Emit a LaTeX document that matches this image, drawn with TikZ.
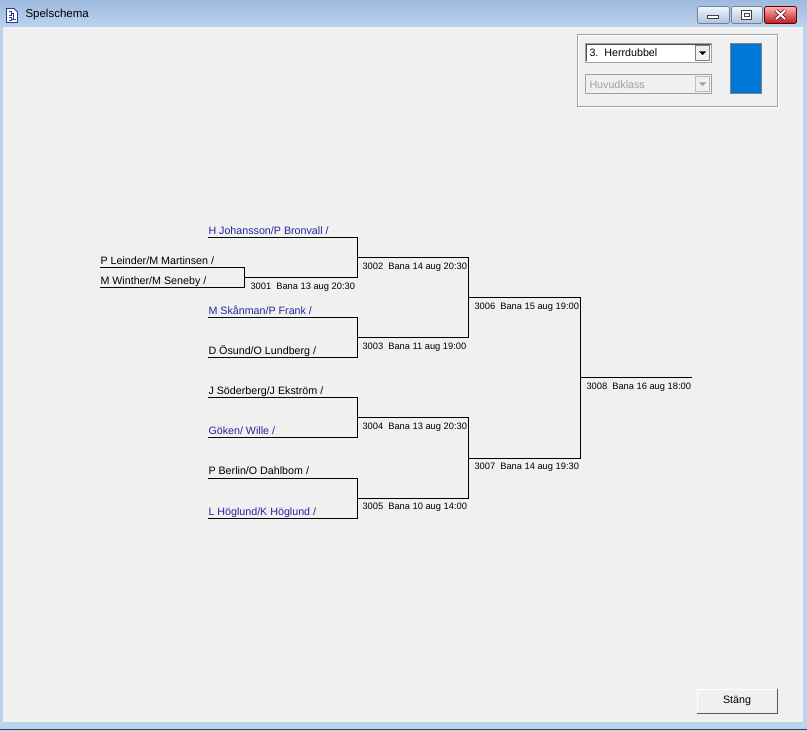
\documentclass[tikz,border=0pt]{standalone}
\usepackage{fontspec}
\setmainfont{Liberation Sans}
\usetikzlibrary{positioning}
\definecolor{winbg}{HTML}{F0F0F0}
\definecolor{frame}{HTML}{BCD3EE}
\definecolor{titletop}{HTML}{9FBADF}
\definecolor{seeded}{HTML}{2626A2}
\definecolor{etch}{HTML}{A0A0A0}
\definecolor{pickblue}{HTML}{0078D7}
\definecolor{iconblue}{HTML}{2A3A96}
\definecolor{capedge}{HTML}{6F829C}
\newcommand\teamfont{\fontsize{10.7}{12}\selectfont}
\newcommand\gamefont{\fontsize{9.3}{11}\selectfont}

\begin{document}
\begin{tikzpicture}[x=1pt,y=-1pt,line width=1pt,
  team/.style={anchor=south west,inner xsep=0pt,inner ysep=0pt,text depth=2.5pt,font=\teamfont},
  seed/.style={text=seeded},
  game/.style={inner sep=0pt,font=\gamefont},
  capbtn/.style={rounded corners=2pt,draw=capedge,line width=0.8pt,top color=white!80!frame,bottom color=frame!80!capedge},
  closebtn/.style={rounded corners=2pt,draw=red!40!black,line width=0.8pt,top color=red!30!white,bottom color=red!70!black!90!white}
  ]
  \useasboundingbox (0,0) rectangle (807,730);
  \fill[frame] (0,0) rectangle (807,730);
  \shade[top color=titletop,bottom color=frame] (0,0) rectangle (807,27);
  \fill[winbg] (3,27) rectangle (803,722);
  \fill[teal!70!black] (0,729) rectangle (807,730);

  % title bar
  \draw[iconblue,fill=white,line width=0.8pt] (6.5,8.5) -- (14,8.5) -- (17.5,12) -- (17.5,22.5) -- (6.5,22.5) -- cycle;
  \draw[iconblue,line width=0.8pt] (8.5,11) -- (11,11) -- (11,15) -- (8.5,15) (11,13) -- (13.5,13) -- (13.5,19) (8.5,17) -- (11,17) -- (11,20.5) -- (8.5,20.5) (11,19) -- (15.5,19);
  \node[anchor=west,inner sep=0pt,font=\fontsize{11.5}{13}\selectfont] (title) at (25,15) {Spelschema};
  \path[capbtn] (697.5,6.5) rectangle (729.5,23.5);
  \draw[fill=white,draw=black!75,line width=0.6pt] (707.5,15.5) rectangle (718.5,18.5);
  \path[capbtn] (731.5,6.5) rectangle (762.5,23.5);
  \draw[fill=white,draw=black!75,line width=0.6pt] (741.5,10.5) rectangle (751.5,19);
  \draw[black!75,line width=0.6pt] (744,13) rectangle (749,16.5);
  \path[closebtn] (764.5,6.5) rectangle (796.5,23.5);
  \draw[red!30!black,line width=3.4pt] (776,10.5) -- (785,19) (785,10.5) -- (776,19);
  \draw[white,line width=2pt] (776,10.5) -- (785,19) (785,10.5) -- (776,19);

  % class picker
  \draw[white] (578.5,35.5) rectangle (778.5,107.5);
  \draw[etch] (577.5,34.5) rectangle (777.5,106.5);
  \draw[etch,fill=white] (585.5,43.5) rectangle (711.5,62.5);
  \draw[black!70] (586.5,61.5) -- (586.5,44.5) -- (710.5,44.5);
  \draw[draw=black!50,fill=winbg] (695.5,45.5) rectangle (709.5,60.5);
  \fill (699,51.5) -- (706,51.5) -- (702.5,55) -- cycle;
  \node[anchor=west,inner sep=0pt,font=\teamfont] (klass) at (589,53) {3.\ \ Herrdubbel};
  \draw[etch,fill=winbg] (585.5,74.5) rectangle (711.5,93.5);
  \draw[draw=black!25,fill=winbg] (695.5,76.5) rectangle (709.5,91.5);
  \fill[etch] (699,82.5) -- (706,82.5) -- (702.5,86) -- cycle;
  \node[anchor=west,inner sep=0pt,font=\teamfont,text=etch] (grupp) at (589,85) {Huvudklass};
  \draw[draw=black!50,fill=pickblue] (730.5,43.5) rectangle (761.5,93.5);

  % pairs
  \node[team] (p_1) at (100,268) {P Leinder/M Martinsen /};
  \node[team] (p_2) at (100,288) {M Winther/M Seneby /};
  \node[team,seed] (p_3) at (208,238) {H Johansson/P Bronvall /};
  \node[team,seed] (p_4) at (208,318) {M Skånman/P Frank /};
  \node[team] (p_5) at (208,358) {D Ösund/O Lundberg /};
  \node[team] (p_6) at (208,398) {J Söderberg/J Ekström /};
  \node[team,seed] (p_7) at (208,438) {Göken/ Wille /};
  \node[team] (p_8) at (208,478) {P Berlin/O Dahlbom /};
  \node[team,seed] (p_9) at (208,518) {L Höglund/K Höglund /};

  % matches
  \coordinate (m_3001) at (244,278);
  \coordinate (m_3002) at (357,258);
  \coordinate (m_3003) at (357,338);
  \coordinate (m_3004) at (357,418);
  \coordinate (m_3005) at (357,498);
  \coordinate (m_3006) at (468,298);
  \coordinate (m_3007) at (468,458);
  \coordinate (m_3008) at (580,378);
  \coordinate (final) at (692,378);

  \draw (p_1.south west) -| (m_3001);
  \draw (p_2.south west) -| (m_3001);
  \draw (p_3.south west) -| (m_3002);
  \draw (m_3001) -| (m_3002);
  \draw (p_4.south west) -| (m_3003);
  \draw (p_5.south west) -| (m_3003);
  \draw (p_6.south west) -| (m_3004);
  \draw (p_7.south west) -| (m_3004);
  \draw (p_8.south west) -| (m_3005);
  \draw (p_9.south west) -| (m_3005);
  \draw (m_3002) -| (m_3006);
  \draw (m_3003) -| (m_3006);
  \draw (m_3004) -| (m_3007);
  \draw (m_3005) -| (m_3007);
  \draw (m_3006) -| (m_3008);
  \draw (m_3007) -| (m_3008);
  \draw (m_3008) -- (final);

  \node[game,below right=5pt and 6pt of m_3001] (g_3001) {3001\ \ Bana 13 aug 20:30};
  \node[game,below right=5pt and 5pt of m_3002] (g_3002) {3002\ \ Bana 14 aug 20:30};
  \node[game,below right=5pt and 5pt of m_3003] (g_3003) {3003\ \ Bana 11 aug 19:00};
  \node[game,below right=5pt and 5pt of m_3004] (g_3004) {3004\ \ Bana 13 aug 20:30};
  \node[game,below right=5pt and 5pt of m_3005] (g_3005) {3005\ \ Bana 10 aug 14:00};
  \node[game,below right=5pt and 6pt of m_3006] (g_3006) {3006\ \ Bana 15 aug 19:00};
  \node[game,below right=5pt and 6pt of m_3007] (g_3007) {3007\ \ Bana 14 aug 19:30};
  \node[game,below right=5pt and 6pt of m_3008] (g_3008) {3008\ \ Bana 16 aug 18:00};

  % close button
  \node[inner sep=0pt,minimum width=80pt,minimum height=24pt,draw=black!45,fill=winbg,font=\teamfont] (stang) at (737,701) {Stäng};
  \draw[black!65] (stang.north east) -- (stang.south east) -- (stang.south west);
  \draw[white] ([xshift=1pt,yshift=1pt]stang.south west) -- ([xshift=1pt,yshift=-1pt]stang.north west) -- ([xshift=-1pt,yshift=-1pt]stang.north east);
\end{tikzpicture}
\end{document}
